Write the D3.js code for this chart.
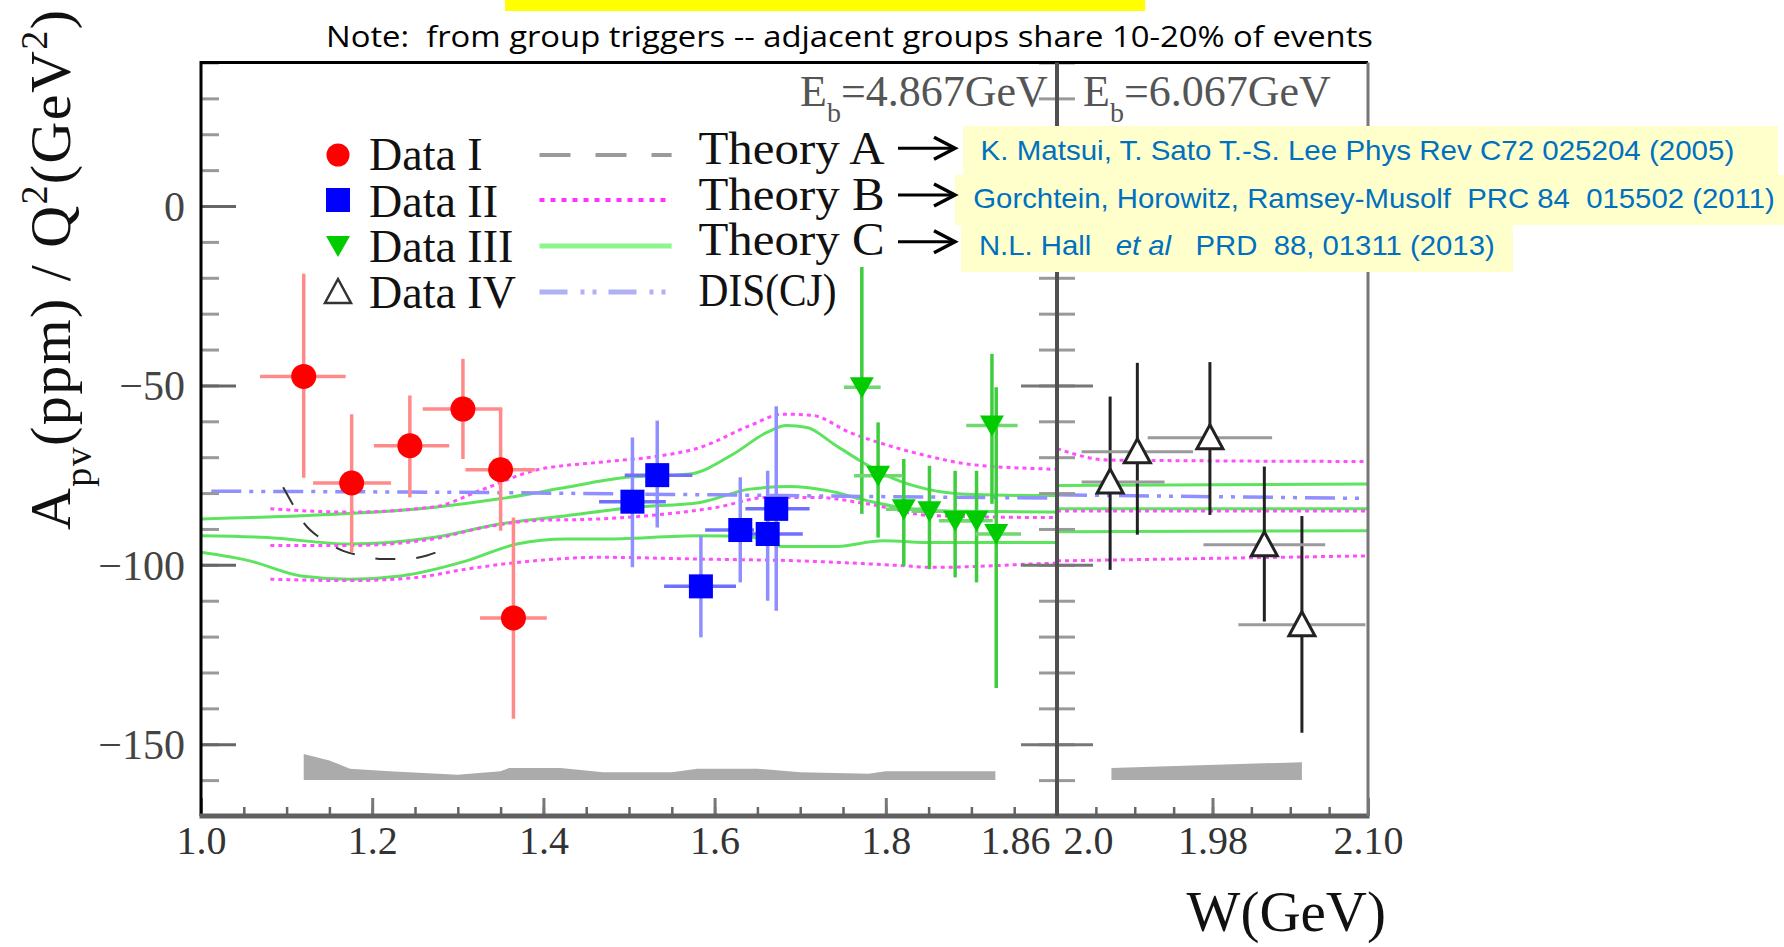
<!DOCTYPE html>
<html>
<head>
<meta charset="utf-8">
<script src="https://cdn.jsdelivr.net/npm/d3@7/dist/d3.min.js"></script>
<style>
  body { margin: 0; background: #fff; }
  svg { display: block; }
</style>
</head>
<body>
<svg id="chart" width="1784" height="947"></svg>
<script>
// ---------------- data ----------------
// Data I (red circles), beam 4.867 GeV
const dataI_W    = [1.120, 1.176, 1.244, 1.306, 1.350, 1.365];
const dataI_A    = [-47.5, -77.2, -66.8, -56.6, -73.5, -114.8];
const dataI_Alo  = [-75.7, -96.5, -81.2, -70.5, -90.5, -142.9];
const dataI_Ahi  = [-18.9, -58.0, -52.8, -42.6, -56.6, -86.8];
const dataI_Wlo  = [1.069, 1.131, 1.202, 1.259, 1.309, 1.326];
const dataI_Whi  = [1.169, 1.222, 1.290, 1.352, 1.390, 1.404];

// Data II (blue squares)
const dataII_W   = [1.504, 1.533, 1.584, 1.630, 1.662, 1.672];
const dataII_A   = [-82.4, -75.0, -106.0, -90.3, -91.4, -84.4];
const dataII_Alo = [-100.7, -89.6, -120.2, -104.9, -110.0, -112.8];
const dataII_Ahi = [-64.5, -59.8, -91.9, -75.6, -73.8, -55.8];
const dataII_Wlo = [1.465, 1.495, 1.541, 1.589, 1.634, 1.636];
const dataII_Whi = [1.543, 1.574, 1.625, 1.646, 1.703, 1.711];

// Data III (green down triangles)
const dataIII_W   = [1.772, 1.791, 1.821, 1.851, 1.881, 1.906, 1.924, 1.929];
const dataIII_A   = [-50.5, -75.2, -84.5, -85.1, -87.7, -87.7, -61.2, -91.4];
const dataIII_Alo = [-85.8, -92.4, -100.3, -101.2, -103.5, -104.9, -83.0, -134.3];
const dataIII_Ahi = [-17.0, -60.3, -70.5, -72.4, -73.8, -73.8, -41.2, -50.5];
const dataIII_Wlo = [1.751, 1.763, 1.800, 1.830, 1.862, 1.888, 1.894, 1.905];
const dataIII_Whi = [1.794, 1.820, 1.842, 1.872, 1.900, 1.925, 1.954, 1.958];

// Data IV (open triangles), beam 6.067 GeV
const dataIV_W   = [1.901, 1.922, 1.978, 2.020, 2.049];
const dataIV_A   = [-76.9, -68.5, -64.6, -94.4, -116.7];
const dataIV_Alo = [-101.4, -91.6, -86.1, -115.8, -146.8];
const dataIV_Ahi = [-53.1, -43.7, -43.5, -72.6, -86.4];
const dataIV_Wlo = [1.879, 1.879, 1.930, 1.973, 2.000];
const dataIV_Whi = [1.943, 1.965, 2.026, 2.067, 2.098];

// Theory A (dashed)
const theoryA = [[1.096,-78.4],[1.108,-83.5],[1.121,-88.6],[1.141,-92.8],[1.166,-96.1],
                 [1.186,-97.4],[1.213,-98.4],[1.240,-98.4],[1.264,-97.4],[1.289,-95.1]];

// Theory B (magenta dotted): upper / central / lower, 4.867 GeV
const theoryB_up  = [[1.081,-84.4],[1.174,-85.3],[1.271,-83.9],[1.330,-78.9],[1.388,-73.8],[1.466,-71.4],
                     [1.525,-70.0],[1.583,-67.3],[1.641,-61.2],[1.680,-58.0],[1.715,-58.4],[1.758,-63.1],
                     [1.797,-66.3],[1.855,-70.0],[1.895,-71.9],[1.988,-73.3],[2.0,-73.4]];
const theoryB_mid = [[1.081,-94.6],[1.174,-94.6],[1.271,-92.8],[1.330,-89.6],[1.388,-87.7],[1.466,-87.2],
                     [1.544,-85.8],[1.602,-84.0],[1.661,-81.2],[1.719,-81.2],[1.778,-83.0],[1.855,-86.3],
                     [1.988,-86.8],[2.0,-86.8]];
const theoryB_lo  = [[1.081,-104.0],[1.174,-104.4],[1.252,-103.5],[1.310,-101.2],[1.388,-98.9],[1.466,-97.9],
                     [1.583,-98.4],[1.700,-98.9],[1.817,-100.2],[1.855,-100.7],[1.988,-99.6],[2.0,-99.5]];

// Theory C (green): upper / central / lower, 4.867 GeV
const theoryC_up  = [[1.0,-87.2],[1.117,-86.3],[1.271,-84.0],[1.349,-81.6],[1.427,-78.4],[1.490,-75.8],
                     [1.571,-74.7],[1.622,-69.1],[1.661,-63.1],[1.684,-61.2],[1.708,-61.7],[1.739,-66.3],
                     [1.770,-71.0],[1.809,-76.0],[1.848,-78.9],[1.895,-80.3],[1.988,-80.7],[2.0,-80.7]];
const theoryC_mid = [[1.0,-91.9],[1.077,-92.4],[1.174,-94.2],[1.271,-92.4],[1.349,-88.6],[1.427,-86.3],
                     [1.505,-84.0],[1.583,-82.6],[1.641,-78.9],[1.688,-78.2],[1.731,-79.3],[1.778,-82.1],
                     [1.817,-84.0],[1.855,-85.0],[1.988,-85.3],[2.0,-85.3]];
const theoryC_lo  = [[1.0,-96.5],[1.057,-98.9],[1.117,-103.1],[1.174,-104.0],[1.233,-103.1],[1.310,-98.9],
                     [1.369,-94.2],[1.427,-92.8],[1.466,-92.8],[1.583,-91.9],[1.641,-92.2],[1.680,-94.9],
                     [1.739,-94.9],[1.797,-93.3],[1.855,-93.8],[2.0,-93.8]];

// DIS (CJ) estimate
const disCJ_L = [[1.012,-79.5],[1.3,-79.8],[1.6,-80.5],[1.8,-81.0],[2.0,-81.4]];
const disCJ_R = [[1.86,-80.5],[2.10,-81.5]];

// 6.067 GeV theory curves
const theoryB_up_R  = [[1.86,-67.6],[1.90,-70.8],[2.10,-71.2]];
const theoryB_mid_R = [[1.86,-85.0],[2.10,-85.0]];
const theoryB_lo_R  = [[1.86,-98.9],[2.10,-97.5]];
const theoryC_up_R  = [[1.86,-77.9],[2.10,-77.5]];
const theoryC_mid_R = [[1.86,-84.4],[2.10,-84.4]];
const theoryC_lo_R  = [[1.86,-90.8],[2.10,-90.5]];

// systematic error bands (top edge; bottom edge fixed)
const bandBottom = -160;
const bandL = [[1.12,-152.7],[1.15,-154.5],[1.174,-156.8],[1.22,-157.5],[1.30,-158.5],[1.35,-157.5],
               [1.36,-156.6],[1.42,-156.6],[1.47,-157.8],[1.55,-157.8],[1.58,-156.8],[1.65,-156.8],
               [1.70,-157.8],[1.78,-158.2],[1.80,-157.5],[1.928,-157.5]];
const bandR = [[1.902,-156.6],[2.049,-155.0]];

// axis ticks
const leftTickLabels  = [1.0, 1.2, 1.4, 1.6, 1.8, 2.0];
const rightTickLabels = [1.86, 1.98, 2.10];
const yMajorTicks = [-150, -100, -50, 0];

// legend / annotation text
const legendData   = ["Data I", "Data II", "Data III", "Data IV"];
const legendTheory = ["Theory A", "Theory B", "Theory C", "DIS(CJ)"];
const refs = [
  "K. Matsui, T. Sato T.-S. Lee Phys Rev C72 025204 (2005)",
  "Gorchtein, Horowitz, Ramsey-Musolf  PRC 84  015502 (2011)",
  "N.L. Hall   et al   PRD  88, 01311 (2013)"
];

// ---------------- layout ----------------
const svg = d3.select("#chart");
const SERIF = "Liberation Serif, Times New Roman, serif";
const SANS  = "Liberation Sans, Arial, sans-serif";

const yScale = d3.scaleLinear().domain([-170, 40]).range([816, 62.5]);
const xLeft  = d3.scaleLinear().domain([1.0, 2.0]).range([201, 1057]);
const xRight = d3.scaleLinear().domain([1.86, 2.10]).range([1057, 1368]);

svg.append("rect").attr("width", 1784).attr("height", 947).attr("fill", "#fff");

const defs = svg.append("defs");
defs.append("clipPath").attr("id", "clipL").append("rect")
  .attr("x", xLeft(1.0)).attr("y", yScale(40))
  .attr("width", xLeft(2.0) - xLeft(1.0)).attr("height", yScale(-170) - yScale(40));
defs.append("clipPath").attr("id", "clipR").append("rect")
  .attr("x", xRight(1.86)).attr("y", yScale(40))
  .attr("width", xRight(2.10) - xRight(1.86)).attr("height", yScale(-170) - yScale(40));

// highlight strip and note
svg.append("rect").attr("x", 505).attr("y", 0).attr("width", 640).attr("height", 11).attr("fill", "#ffff00");
svg.append("text").attr("x", 326).attr("y", 47)
  .attr("font-family", "Open Sans, DejaVu Sans, sans-serif").attr("font-size", 29)
  .attr("textLength", 1047).attr("lengthAdjust", "spacingAndGlyphs")
  .style("white-space", "pre")
  .text("Note:  from group triggers -- adjacent groups share 10-20% of events");

const gL = svg.append("g").attr("clip-path", "url(#clipL)");
const gR = svg.append("g").attr("clip-path", "url(#clipR)");

// bands
const bandArea = xs => d3.area().x(d => xs(d[0])).y0(yScale(bandBottom)).y1(d => yScale(d[1]));
gL.append("path").datum(bandL).attr("d", bandArea(xLeft)).attr("fill", "#ababab");
gR.append("path").datum(bandR).attr("d", bandArea(xRight)).attr("fill", "#ababab");

// curves
const styles = {
  B:   { stroke: "#ff4dff", width: 3,   dash: "4 4" },
  C:   { stroke: "#5ee35e", width: 3,   dash: null },
  DIS: { stroke: "#8f8fff", width: 3.5, dash: "30 8 4 8 4 8" },
  A:   { stroke: "#333",    width: 2,   dash: "20 21" }
};
function drawCurve(g, xs, pts, st) {
  const line = d3.line().x(d => xs(d[0])).y(d => yScale(d[1])).curve(d3.curveMonotoneX);
  const p = g.append("path").datum(pts).attr("d", line).attr("fill", "none")
    .attr("stroke", st.stroke).attr("stroke-width", st.width);
  if (st.dash) p.attr("stroke-dasharray", st.dash);
}
[theoryC_up, theoryC_mid, theoryC_lo].forEach(c => drawCurve(gL, xLeft, c, styles.C));
[theoryB_up, theoryB_mid, theoryB_lo].forEach(c => drawCurve(gL, xLeft, c, styles.B));
drawCurve(gL, xLeft, disCJ_L, styles.DIS);
drawCurve(gL, xLeft, theoryA, styles.A);
[theoryC_up_R, theoryC_mid_R, theoryC_lo_R].forEach(c => drawCurve(gR, xRight, c, styles.C));
[theoryB_up_R, theoryB_mid_R, theoryB_lo_R].forEach(c => drawCurve(gR, xRight, c, styles.B));
drawCurve(gR, xRight, disCJ_R, styles.DIS);

// error bars
function drawErrors(g, xs, W, A, Alo, Ahi, Wlo, Whi, vColor, hColor, width) {
  const idx = d3.range(W.length);
  g.append("g").selectAll("line").data(idx).join("line")
    .attr("x1", i => xs(W[i])).attr("x2", i => xs(W[i]))
    .attr("y1", i => yScale(Alo[i])).attr("y2", i => yScale(Ahi[i]))
    .attr("stroke", vColor).attr("stroke-width", width);
  g.append("g").selectAll("line").data(idx).join("line")
    .attr("x1", i => xs(Wlo[i])).attr("x2", i => xs(Whi[i]))
    .attr("y1", i => yScale(A[i])).attr("y2", i => yScale(A[i]))
    .attr("stroke", hColor).attr("stroke-width", width);
}
drawErrors(gL, xLeft, dataI_W, dataI_A, dataI_Alo, dataI_Ahi, dataI_Wlo, dataI_Whi, "#ff8a8a", "#ff8a8a", 3.5);
drawErrors(gL, xLeft, dataII_W, dataII_A, dataII_Alo, dataII_Ahi, dataII_Wlo, dataII_Whi, "#8f8fff", "#7070ff", 3.5);
drawErrors(gL, xLeft, dataIII_W, dataIII_A, dataIII_Alo, dataIII_Ahi, dataIII_Wlo, dataIII_Whi, "#3fcc3f", "#6fd86f", 3.5);
drawErrors(gR, xRight, dataIV_W, dataIV_A, dataIV_Alo, dataIV_Ahi, dataIV_Wlo, dataIV_Whi, "#222", "#9a9a9a", 3);

// markers
const triDown = "M-12,-10L12,-10L0,11Z";
const triUp   = "M0,-13L13,11L-13,11Z";
gL.append("g").selectAll("circle").data(d3.range(dataI_W.length)).join("circle")
  .attr("cx", i => xLeft(dataI_W[i])).attr("cy", i => yScale(dataI_A[i]))
  .attr("r", 12.5).attr("fill", "#ff0000");
gL.append("g").selectAll("rect").data(d3.range(dataII_W.length)).join("rect")
  .attr("x", i => xLeft(dataII_W[i]) - 12).attr("y", i => yScale(dataII_A[i]) - 12)
  .attr("width", 24).attr("height", 24).attr("fill", "#0000ff");
gL.append("g").selectAll("path").data(d3.range(dataIII_W.length)).join("path")
  .attr("transform", i => `translate(${xLeft(dataIII_W[i])},${yScale(dataIII_A[i])})`)
  .attr("d", triDown).attr("fill", "#00cc00");
gR.append("g").selectAll("path").data(d3.range(dataIV_W.length)).join("path")
  .attr("transform", i => `translate(${xRight(dataIV_W[i])},${yScale(dataIV_A[i])})`)
  .attr("d", triUp).attr("fill", "#fff").attr("stroke", "#222").attr("stroke-width", 3);

// ---------------- axes ----------------
function styleTicks(g, color, w) {
  g.select(".domain").remove();
  g.selectAll(".tick line").attr("stroke", color).attr("stroke-width", w);
}
const yBottom = yScale(-170);

// bottom axis ticks (pointing up into the plot)
styleTicks(svg.append("g").attr("transform", `translate(0,${yBottom})`)
  .call(d3.axisTop(xLeft).tickValues(d3.range(1.0, 2.0001, 0.05)).tickSize(9).tickFormat("")), "#666", 2.5);
styleTicks(svg.append("g").attr("transform", `translate(0,${yBottom})`)
  .call(d3.axisTop(xLeft).tickValues([1.0, 1.2, 1.4, 1.6, 1.8]).tickSize(18).tickFormat("")), "#777", 3);
styleTicks(svg.append("g").attr("transform", `translate(0,${yBottom})`)
  .call(d3.axisTop(xRight).tickValues(d3.range(1.86, 2.1001, 0.03)).tickSize(9).tickFormat("")), "#666", 2.5);
styleTicks(svg.append("g").attr("transform", `translate(0,${yBottom})`)
  .call(d3.axisTop(xRight).tickValues([1.98, 2.10]).tickSize(18).tickFormat("")), "#777", 3);

// bottom tick labels
function labelAxis(xs, vals, fmt) {
  const g = svg.append("g").attr("transform", `translate(0,${yBottom})`)
    .call(d3.axisBottom(xs).tickValues(vals).tickSize(0).tickFormat(fmt));
  g.select(".domain").remove();
  g.attr("font-family", SERIF).attr("font-size", 40);
  g.selectAll("text").attr("y", 38).attr("dy", 0).attr("fill", "#333");
  return g;
}
const labL = labelAxis(xLeft, leftTickLabels, d3.format(".1f"));
labL.selectAll(".tick").filter(d => d === 2.0).select("text").attr("text-anchor", "start").attr("x", 6);
const labR = labelAxis(xRight, rightTickLabels, d3.format(".2f"));
labR.selectAll(".tick").filter(d => d === 1.86).select("text").attr("text-anchor", "end").attr("x", -7);

// left y axis ticks
const yMinor = d3.range(-170, 40.001, 10);
styleTicks(svg.append("g").attr("transform", `translate(${xLeft(1.0)},0)`)
  .call(d3.axisRight(yScale).tickValues(yMinor).tickSize(18).tickFormat("")), "#999", 3);
styleTicks(svg.append("g").attr("transform", `translate(${xLeft(1.0)},0)`)
  .call(d3.axisRight(yScale).tickValues(yMajorTicks).tickSize(35).tickFormat("")), "#666", 3);
// divider ticks on both sides
[d3.axisLeft, d3.axisRight].forEach(ax => {
  styleTicks(svg.append("g").attr("transform", `translate(${xRight(1.86)},0)`)
    .call(ax(yScale).tickValues(yMinor).tickSize(18).tickFormat("")), "#999", 3);
  styleTicks(svg.append("g").attr("transform", `translate(${xRight(1.86)},0)`)
    .call(ax(yScale).tickValues(yMajorTicks).tickSize(36).tickFormat("")), "#777", 3);
});
// y tick labels
const yLab = svg.append("g").attr("transform", `translate(${xLeft(1.0)},0)`)
  .call(d3.axisLeft(yScale).tickValues(yMajorTicks).tickSize(0).tickPadding(16));
yLab.select(".domain").remove();
yLab.attr("font-family", SERIF).attr("font-size", 42);
yLab.selectAll("text").attr("fill", "#444").attr("dy", "0.34em");

// frame
svg.append("line").attr("x1", xLeft(1.0)).attr("x2", xRight(2.10)).attr("y1", yScale(40)).attr("y2", yScale(40))
  .attr("stroke", "#000").attr("stroke-width", 3);
svg.append("line").attr("x1", xLeft(1.0)).attr("x2", xLeft(1.0)).attr("y1", yScale(40) - 1.5).attr("y2", yBottom)
  .attr("stroke", "#000").attr("stroke-width", 3);
svg.append("line").attr("x1", xLeft(1.0) - 1.5).attr("x2", xRight(2.10) + 1.5).attr("y1", yBottom).attr("y2", yBottom)
  .attr("stroke", "#606060").attr("stroke-width", 5);
svg.append("line").attr("x1", xRight(1.86)).attr("x2", xRight(1.86)).attr("y1", yScale(40)).attr("y2", yBottom)
  .attr("stroke", "#505050").attr("stroke-width", 4);
svg.append("line").attr("x1", xRight(2.10)).attr("x2", xRight(2.10)).attr("y1", yScale(40)).attr("y2", yBottom)
  .attr("stroke", "#777").attr("stroke-width", 3);

// axis titles
const yTitle = svg.append("text").attr("transform", "translate(70,270) rotate(-90)")
  .attr("text-anchor", "middle").attr("font-family", SERIF).attr("font-size", 58).attr("fill", "#111")
  .attr("textLength", 520).attr("lengthAdjust", "spacing");
yTitle.append("tspan").text("A");
yTitle.append("tspan").attr("font-size", 38).attr("baseline-shift", "sub").text("pv");
yTitle.append("tspan").text("(ppm) / Q");
yTitle.append("tspan").attr("font-size", 38).attr("baseline-shift", "60%").text("2");
yTitle.append("tspan").text("(GeV");
yTitle.append("tspan").attr("font-size", 38).attr("baseline-shift", "60%").text("2");
yTitle.append("tspan").text(")");

svg.append("text").attr("x", 1386).attr("y", 931).attr("text-anchor", "end")
  .attr("font-family", SERIF).attr("font-size", 57).attr("fill", "#111").text("W(GeV)");

// beam energy labels
function ebLabel(x, val) {
  const t = svg.append("text").attr("x", x).attr("y", 106)
    .attr("font-family", SERIF).attr("font-size", 44).attr("fill", "#555");
  t.append("tspan").text("E");
  t.append("tspan").attr("font-size", 28).attr("baseline-shift", "sub").text("b");
  t.append("tspan").text("=" + val + "GeV");
}
ebLabel(800, "4.867");
ebLabel(1083, "6.067");

// ---------------- legend ----------------
const legRowsY = [155, 200, 246, 292];
const legTextY = [170, 217, 262, 308];
const thTextY  = [164, 210, 255, 306];
const leg = svg.append("g");
leg.append("circle").attr("cx", 338).attr("cy", legRowsY[0]).attr("r", 11.5).attr("fill", "#ff0000");
leg.append("rect").attr("x", 326).attr("y", legRowsY[1] - 12).attr("width", 24).attr("height", 24).attr("fill", "#0000ff");
leg.append("path").attr("transform", `translate(338,${legRowsY[2]})`).attr("d", triDown).attr("fill", "#00cc00");
leg.append("path").attr("transform", `translate(338,${legRowsY[3]})`).attr("d", triUp)
  .attr("fill", "#fff").attr("stroke", "#333").attr("stroke-width", 2.5);
leg.selectAll("text.d").data(legendData).join("text").attr("class", "d")
  .attr("x", 369).attr("y", (d, i) => legTextY[i])
  .attr("font-family", SERIF).attr("font-size", 46).attr("fill", "#111").text(d => d);

const legLineStyles = [
  { stroke: "#9a9a9a", width: 4, dash: "31 25" },
  { stroke: "#ff33ff", width: 4, dash: "5 6" },
  { stroke: "#8ef58e", width: 5, dash: null },
  { stroke: "#b0b0f5", width: 5, dash: "28 13 4 8 4 12" }
];
legLineStyles.forEach((st, i) => {
  const l = leg.append("line").attr("x1", 539.5).attr("x2", 671.6)
    .attr("y1", legRowsY[i]).attr("y2", legRowsY[i])
    .attr("stroke", st.stroke).attr("stroke-width", st.width);
  if (st.dash) l.attr("stroke-dasharray", st.dash);
});
leg.selectAll("text.t").data(legendTheory).join("text").attr("class", "t")
  .attr("x", 698.5).attr("y", (d, i) => thTextY[i])
  .attr("font-family", SERIF).attr("font-size", 46).attr("fill", "#111")
  .attr("textLength", (d, i) => i === 3 ? 138 : 186).attr("lengthAdjust", "spacingAndGlyphs")
  .text(d => d);

// ---------------- reference boxes ----------------
const boxes = [
  { x: 963, y: 126, w: 815, h: 49, tx: 980.6, ty: 160, tl: 753.7 },
  { x: 955, y: 175, w: 829, h: 50, tx: 973.3, ty: 208.3, tl: 801.5 },
  { x: 961, y: 225, w: 552, h: 47, tx: 978.9, ty: 255, tl: 515.8 }
];
const arrowsY = [148.3, 195, 241.7];
boxes.forEach(b => {
  svg.append("rect").attr("x", b.x).attr("y", b.y).attr("width", b.w).attr("height", b.h).attr("fill", "#ffffcc");
});
boxes.forEach((b, i) => {
  const t = svg.append("text").attr("x", b.tx).attr("y", b.ty)
    .attr("font-family", SANS).attr("font-size", 28).attr("fill", "#0070c0")
    .attr("textLength", b.tl).attr("lengthAdjust", "spacingAndGlyphs")
    .style("white-space", "pre");
  if (i === 2) {
    t.append("tspan").text("N.L. Hall   ");
    t.append("tspan").attr("font-style", "italic").text("et al");
    t.append("tspan").text("   PRD  88, 01311 (2013)");
  } else {
    t.text(refs[i]);
  }
});
arrowsY.forEach(y => {
  svg.append("line").attr("x1", 898).attr("x2", 952).attr("y1", y).attr("y2", y)
    .attr("stroke", "#000").attr("stroke-width", 3);
  svg.append("path").attr("d", `M934,${y - 11}L955,${y}L934,${y + 11}`)
    .attr("fill", "none").attr("stroke", "#000").attr("stroke-width", 3.5);
});
</script>
</body>
</html>
